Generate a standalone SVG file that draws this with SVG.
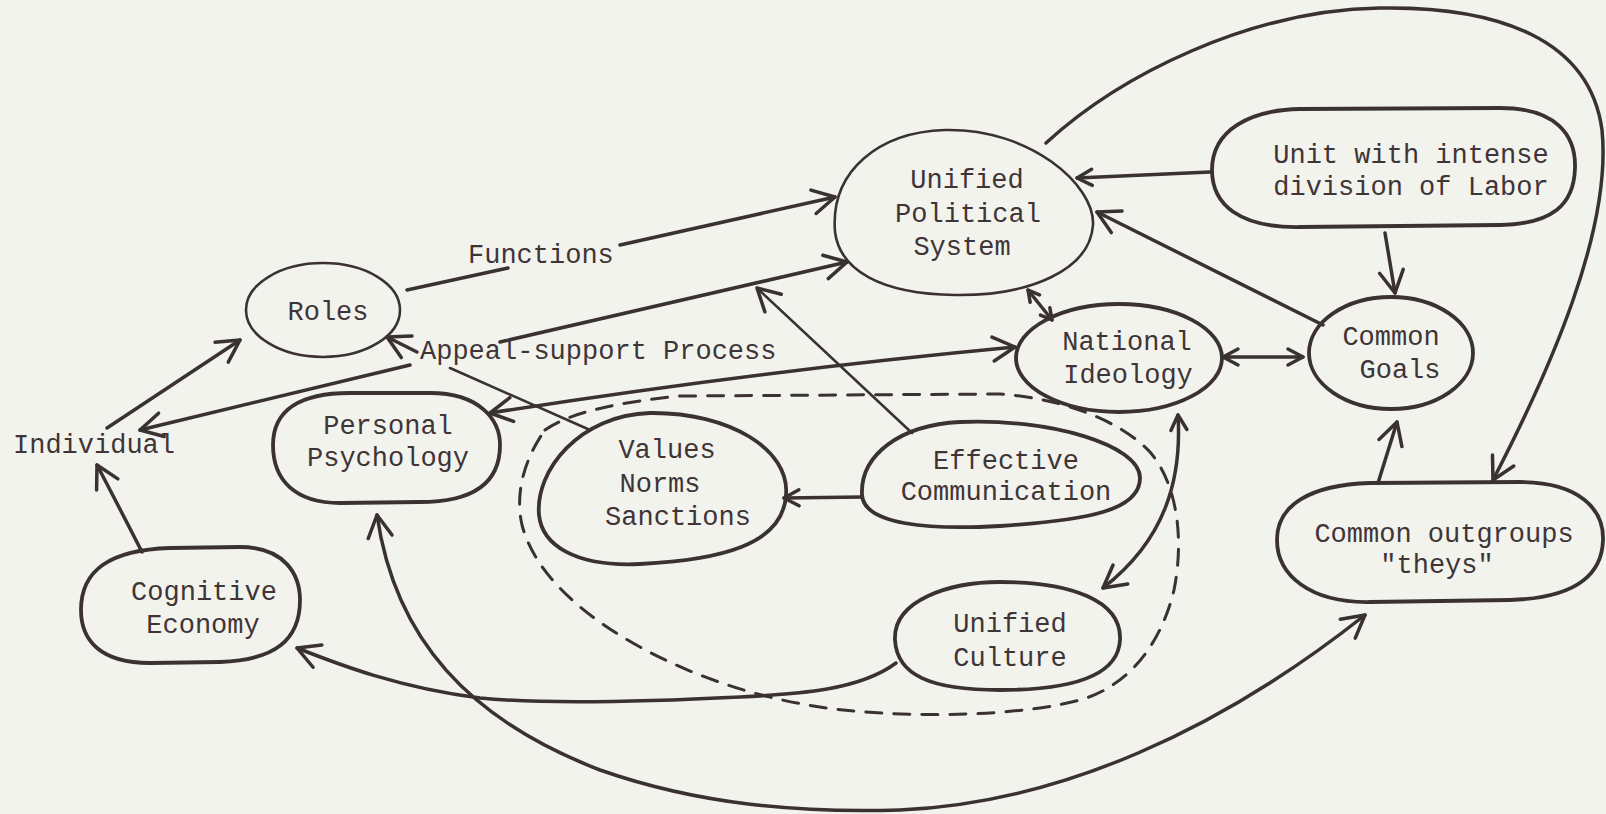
<svg xmlns="http://www.w3.org/2000/svg" width="1606" height="814" viewBox="0 0 1606 814">
<defs>
<style>
.bg{fill:#f3f3ee}
.blob{fill:none;stroke:#3a3133;stroke-width:3.8;stroke-linejoin:round}
.thin{stroke-width:2.6}
.c{fill:none;stroke:#3a3133;stroke-width:3.5;stroke-linecap:round}
.ct{stroke-width:2.6}
.dash{fill:none;stroke:#3a3133;stroke-width:3;stroke-dasharray:16 12;stroke-linecap:round}
text{font-family:"Liberation Mono","DejaVu Sans Mono",monospace;font-size:27px;fill:#3f3537}
.m{text-anchor:middle}
.hd{fill:none;stroke:#3a3133;stroke-width:3.5;stroke-linecap:round;stroke-linejoin:round}
</style>
<marker id="ah" viewBox="0 0 30 30" refX="27" refY="15" markerWidth="30" markerHeight="30" markerUnits="userSpaceOnUse" orient="auto-start-reverse" overflow="visible"><path class="hd" d="M5,3 L27,15 L5,27"/></marker>
<marker id="am" viewBox="0 0 20 20" refX="18" refY="10" markerWidth="20" markerHeight="20" markerUnits="userSpaceOnUse" orient="auto-start-reverse" overflow="visible"><path class="hd" d="M3,2 L18,10 L3,18"/></marker>
<marker id="as" viewBox="0 0 14 14" refX="13" refY="7" markerWidth="14" markerHeight="14" markerUnits="userSpaceOnUse" orient="auto-start-reverse" overflow="visible"><path class="hd" d="M2,1 L13,7 L2,13"/></marker>
</defs>
<rect class="bg" x="0" y="0" width="1606" height="814"/>

<g id="grouping">
<path class="dash" d="M545,430 C570,412 620,402 680,396 L1000,394 C1060,398 1120,420 1150,452 C1178,485 1184,540 1174,590 C1162,640 1132,685 1080,700 C1020,716 920,718 843,710 C770,702 700,680 640,647 C585,617 535,575 522,525 C514,490 527,455 545,430 Z"/>
</g>

<g id="connectors">
<path class="c" d="M407,290 L508,268"/>
<path class="c" d="M620,245 L835,197" marker-end="url(#ah)"/>
<text x="468" y="263">Functions</text>
<path class="c" d="M500,342 L847,262" marker-end="url(#ah)"/>
<text x="420" y="359">Appeal-support Process</text>
<path class="c ct" d="M590,430 L450,368"/>
<path class="c" d="M417,352 L387,337" marker-end="url(#ah)"/>
<path class="c" d="M410,365 L140,430" marker-end="url(#ah)"/>
<path class="c" d="M107,428 L240,340" marker-end="url(#ah)"/>
<path class="c" d="M142,552 Q118,505 97,465" marker-end="url(#ah)"/>
<path class="c" d="M490,413 Q750,372 1015,347" marker-start="url(#ah)" marker-end="url(#ah)"/>
<path class="c ct" d="M912,433 L757,288" marker-end="url(#ah)"/>
<path class="c" d="M862,497 L784,498" marker-end="url(#am)"/>
<path class="c" d="M1028,290 L1052,320" marker-start="url(#as)" marker-end="url(#as)"/>
<path class="c" d="M1210,172 L1077,178" marker-end="url(#am)"/>
<path class="c" d="M1323,325 L1097,212" marker-end="url(#ah)"/>
<path class="c" d="M1046,143 C1120,75 1250,10 1380,8 C1500,6 1590,40 1602,130 C1612,230 1550,370 1493,480" marker-end="url(#ah)"/>
<path class="c" d="M1385,233 L1395,293" marker-end="url(#ah)"/>
<path class="c" d="M1223,357 L1303,357" marker-start="url(#am)" marker-end="url(#am)"/>
<path class="c" d="M1378,483 L1397,422" marker-end="url(#ah)"/>
<path class="c" d="M1178,415 C1182,480 1165,540 1103,588" marker-start="url(#am)" marker-end="url(#ah)"/>
<path class="c" d="M896,663 C860,690 800,694 740,697 C640,702 540,704 480,698 C400,688 340,665 297,648" marker-end="url(#ah)"/>
<path class="c" d="M377,515 C395,640 470,720 600,770 C700,805 800,813 900,810 C1060,803 1220,730 1365,615" marker-start="url(#ah)" marker-end="url(#ah)"/>
</g>

<g id="node-roles">
<ellipse class="blob thin" cx="323" cy="310" rx="77" ry="47"/>
<text class="m" x="328" y="320">Roles</text>
</g>
<g id="node-individual">
<text x="13" y="453">Individual</text>
</g>
<g id="node-personal-psychology">
<path class="blob" d="M273,445 C273,410 300,393 350,393 L430,393 C480,393 500,420 500,445 C500,485 470,502 420,502 L340,503 C295,503 273,480 273,445 Z"/>
<text class="m" x="388" y="434">Personal</text>
<text class="m" x="388" y="466">Psychology</text>
</g>
<g id="node-cognitive-economy">
<path class="blob" d="M81,610 C81,570 110,550 170,548 L240,547 C285,547 300,575 300,600 C300,640 275,660 220,662 L150,663 C100,663 81,640 81,610 Z"/>
<text class="m" x="204" y="600">Cognitive</text>
<text class="m" x="203" y="633">Economy</text>
</g>
<g id="node-values">
<path class="blob" d="M539,515 C535,470 580,415 650,413 C730,412 790,450 786,495 C783,545 720,560 640,564 C575,567 542,545 539,515 Z"/>
<text class="m" x="667" y="458">Values</text>
<text class="m" x="660" y="492">Norms</text>
<text class="m" x="678" y="525">Sanctions</text>
</g>
<g id="node-effective-communication">
<path class="blob" d="M862,495 C860,455 900,425 960,422 C1050,418 1140,445 1140,478 C1140,510 1090,520 1000,526 C930,530 864,525 862,495 Z"/>
<text class="m" x="1006" y="469">Effective</text>
<text class="m" x="1006" y="500">Communication</text>
</g>
<g id="node-unified-culture">
<path class="blob" d="M895,640 C893,600 950,582 1000,582 C1070,582 1122,600 1120,640 C1118,680 1060,690 1000,690 C930,690 897,675 895,640 Z"/>
<text class="m" x="1010" y="632">Unified</text>
<text class="m" x="1010" y="666">Culture</text>
</g>
<g id="node-unified-political-system">
<path class="blob thin" d="M835,232 C830,170 880,132 945,130 C1030,128 1095,185 1093,225 C1090,270 1030,296 955,295 C880,294 840,270 835,232 Z"/>
<text class="m" x="967" y="188">Unified</text>
<text class="m" x="968" y="222">Political</text>
<text class="m" x="962" y="255">System</text>
</g>
<g id="node-national-ideology">
<ellipse class="blob" cx="1119" cy="358" rx="103" ry="54"/>
<text class="m" x="1127" y="350">National</text>
<text class="m" x="1128" y="383">Ideology</text>
</g>
<g id="node-common-goals">
<ellipse class="blob" cx="1391" cy="353" rx="82" ry="56"/>
<text class="m" x="1391" y="345">Common</text>
<text class="m" x="1400" y="378">Goals</text>
</g>
<g id="node-unit-division-of-labor">
<path class="blob" d="M1212,170 C1212,130 1250,110 1300,109 L1500,108 C1556,108 1576,135 1575,168 C1574,205 1552,224 1500,225 L1300,227 C1240,228 1212,205 1212,170 Z"/>
<text class="m" x="1411" y="163">Unit with intense</text>
<text class="m" x="1411" y="195">division of Labor</text>
</g>
<g id="node-common-outgroups">
<path class="blob" d="M1277,540 C1277,505 1310,485 1370,483 L1520,482 C1580,482 1604,510 1603,540 C1602,575 1575,598 1510,600 L1370,602 C1310,603 1277,575 1277,540 Z"/>
<text class="m" x="1444" y="542">Common outgroups</text>
<text class="m" x="1437" y="573">"theys"</text>
</g>
</svg>
